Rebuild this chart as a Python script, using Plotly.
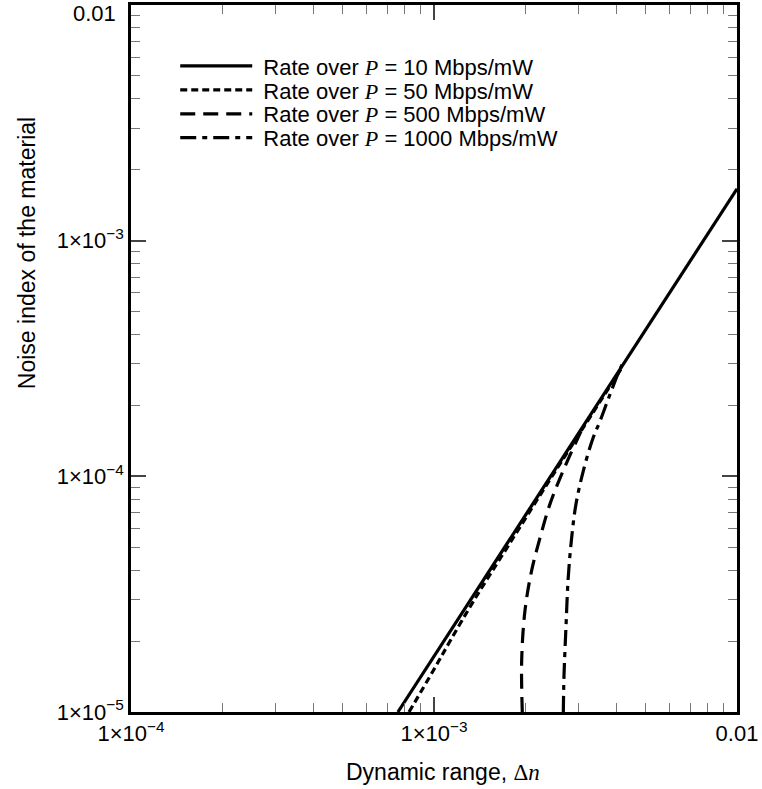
import plotly.graph_objects as go

# ---- data (log-log) ----
rate10_x = [7.6e-4, 1.0e-2]
rate10_y = [1.0e-5, 1.66e-3]

rate50_x = [8.27e-4, 9.95e-4, 1.13e-3, 1.36e-3, 1.745e-3, 2.5e-3, 4.17e-3]
rate50_y = [1.0e-5, 1.5e-5, 2.0e-5, 3.0e-5, 5.0e-5, 1.04e-4, 2.89e-4]

rate500_x = [1.956e-3, 1.947e-3, 1.997e-3, 2.10e-3, 2.238e-3, 2.415e-3, 2.666e-3, 3.055e-3]
rate500_y = [1.0e-5, 1.66e-5, 2.70e-5, 3.98e-5, 5.48e-5, 7.64e-5, 1.053e-4, 1.553e-4]

rate1000_x = [2.672e-3, 2.685e-3, 2.726e-3, 2.774e-3, 2.847e-3, 2.941e-3, 3.109e-3,
              3.347e-3, 3.530e-3, 3.809e-3, 4.049e-3, 4.174e-3]
rate1000_y = [1.0e-5, 1.41e-5, 2.29e-5, 3.73e-5, 5.50e-5, 7.61e-5, 1.053e-4,
              1.451e-4, 1.713e-4, 2.227e-4, 2.73e-4, 2.98e-4]

x_tickvals = [1e-4, 1e-3, 1e-2]
x_ticktext = ["1×10<sup>−4</sup>", "1×10<sup>−3</sup>", "0.01"]
y_tickvals = [1e-5, 1e-4, 1e-3, 1e-2]
y_ticktext = ["1×10<sup>−5</sup>", "1×10<sup>−4</sup>", "1×10<sup>−3</sup>", ""]
y_top_label = "0.01"

rates = ["10", "50", "500", "1000"]
SERIF = "font-family:\"Liberation Serif\", serif"
names = [f"\u00a0Rate over <span style='{SERIF}'><i>P</i></span> = {r} Mbps/mW" for r in rates]

FONT = "Liberation Sans, Arial, sans-serif"
LW = 3.2

series = [
    (rate10_x, rate10_y, "solid", "legend"),
    (rate50_x, rate50_y, "7px,4px", "legend2"),
    (rate500_x, rate500_y, "15px,8px", "legend3"),
    (rate1000_x, rate1000_y, "16px,6px,5px,6px", "legend4"),
]

fig = go.Figure()
for (xs, ys, dash, lg), nm in zip(series, names):
    fig.add_trace(go.Scatter(x=xs, y=ys, mode="lines", name=nm, legend=lg,
                             line=dict(color="black", width=LW, dash=dash),
                             line_shape="linear" if dash == "solid" else "spline"))

axis_common = dict(
    type="log", showgrid=False, zeroline=False,
    showline=True, linecolor="black", linewidth=2.5, mirror="ticks",
    ticks="inside", ticklen=15, tickwidth=1.5, tickcolor="#444",
    minor=dict(ticks="inside", ticklen=9, tickwidth=1.2, tickcolor="#777", dtick="D1", showgrid=False),
    tickfont=dict(family=FONT, size=22, color="black"),
)

fig.update_xaxes(**axis_common, range=[-4, -2], tickvals=x_tickvals, ticktext=x_ticktext)
fig.update_yaxes(**axis_common, range=[-5, -2], tickvals=y_tickvals, ticktext=y_ticktext)

leg_common = dict(xanchor="left", yanchor="middle", bgcolor="rgba(0,0,0,0)", borderwidth=0,
                  font=dict(family=FONT, size=22, color="black"), itemwidth=72)
leg_x = 0.073
leg_rows = [0.9135, 0.8796, 0.8458, 0.8120]

fig.update_layout(
    width=762, height=789,
    margin=dict(l=131, r=25, t=2, b=77),
    paper_bgcolor="white", plot_bgcolor="white",
    font=dict(family=FONT, size=22, color="black"),
    showlegend=True,
    legend=dict(x=leg_x, y=leg_rows[0], **leg_common),
    legend2=dict(x=leg_x, y=leg_rows[1], **leg_common),
    legend3=dict(x=leg_x, y=leg_rows[2], **leg_common),
    legend4=dict(x=leg_x, y=leg_rows[3], **leg_common),
    hovermode=False,
    annotations=[
        dict(text="Noise index of the material", xref="paper", yref="paper",
             x=-0.1716, y=0.649, xanchor="center", yanchor="middle", textangle=-90,
             showarrow=False, font=dict(family=FONT, size=23, color="black")),
        dict(text=f"Dynamic range, <span style='{SERIF}'>Δ<i>n</i></span>", xref="paper", yref="paper",
             x=0.515, y=-0.0845, xanchor="center", yanchor="middle",
             showarrow=False, font=dict(family=FONT, size=23, color="black")),
        dict(text=y_top_label, xref="paper", yref="paper",
             x=-0.0215, y=0.988, xanchor="right", yanchor="middle",
             showarrow=False, font=dict(family=FONT, size=22, color="black")),
    ],
)

fig.write_html("out.html", config={"displayModeBar": False})
